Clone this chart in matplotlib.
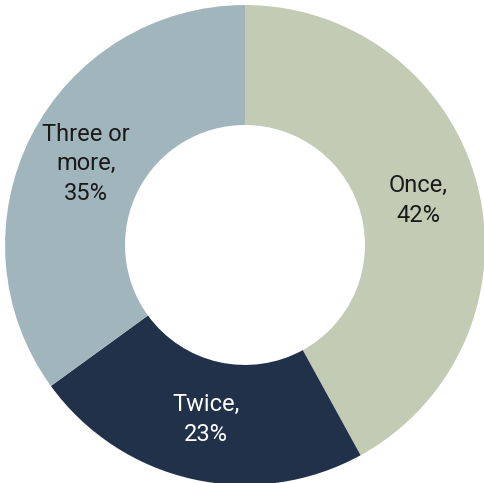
import matplotlib
matplotlib.use("Agg")
import matplotlib.pyplot as plt

categories = ["Once", "Twice", "Three or\nmore"]
shares = [42, 23, 35]
colors = ["#c3cbb5", "#22314a", "#a1b6bc"]
text_colors = ["#1a1a1a", "#ffffff", "#1a1a1a"]

fig = plt.figure(figsize=(4.84, 4.83), dpi=100)
ax = fig.add_axes([0, 0, 1, 1])

labels = [f"{c},\n{v}%" for c, v in zip(categories, shares)]
wedges, texts = ax.pie(
    shares,
    labels=labels,
    colors=colors,
    startangle=90,
    counterclock=False,
    labeldistance=0.745,
    wedgeprops=dict(width=0.5, linewidth=0),
    textprops=dict(ha="center", va="center", fontsize=17,
                   family="Roboto", fontweight="normal", linespacing=1.35),
)
for t, c in zip(texts, text_colors):
    t.set_color(c)

ax.set_xlim(-1.021, 0.996)
ax.set_ylim(-0.992, 1.021)
ax.set_aspect("equal")
ax.axis("off")

fig.savefig("out.png", dpi=100)
